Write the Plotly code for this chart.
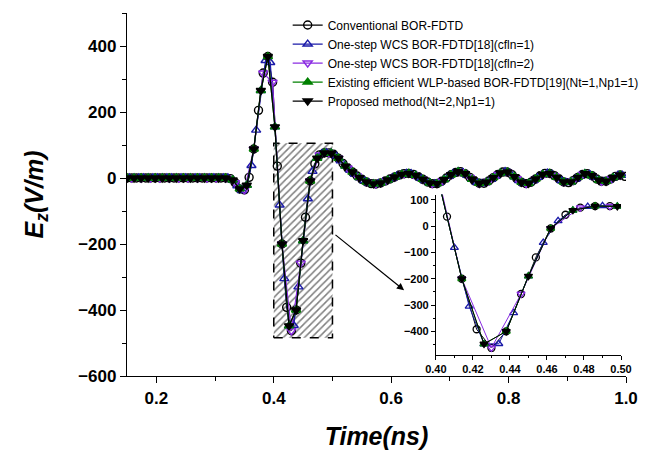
import numpy as np
import plotly.graph_objects as go

# ---------------- data ----------------
t_start = 0.15
t_step = 0.004
ez_values = [
    0, 0, 0, 0, 0, 0, 0, 0, 0, 0,
    0, 0, 0, 0, 0, 0, 0, 0, 0, 0,
    0, 0, 0, 0, 0, 0, 0, 0, 0, 0,
    0, 0, 0, 0, 0, 0, 0, 0, 0, 0,
    0, 0, 0, 0,
    -2, -6, -14, -24, -33, -38, -36, -22, 2, 38,
    88, 145, 205, 265, 318, 356, 368, 350, 290, 155,
    36, -82, -200, -305, -392, -448, -463, -447, -400, -330,
    -258, -190, -119, -63, -9, 20, 43, 60, 70, 74,
    76, 77, 76, 75, 72, 67, 60, 52, 44, 36,
    30, 24, 18, 12, 6, 1, -4, -8, -12, -15,
    -17, -18, -18, -17, -15, -12, -9, -6, -3, 0,
    3, 6, 9, 11, 13, 14, 14, 13, 11, 8,
    4, 0, -4, -8, -12, -15, -17, -18, -17, -14,
    -10, -5, 0, 5, 10, 14, 17, 19, 19, 17,
    13, 8, 2, -4, -9, -13, -16, -17, -16, -13,
    -9, -4, 1, 6, 11, 15, 18, 19, 18, 15,
    10, 4, -2, -8, -13, -16, -17, -16, -13, -8,
    -3, 2, 7, 11, 14, 15, 14, 11, 7, 2,
    -3, -8, -12, -14, -14, -12, -8, -3, 2, 7,
    11, 13, 13, 11, 7, 2, -3, -7, -10, -11,
    -10, -7, -3, 1, 5, 8, 9, 8, 5,
]
series_names = [
    "Conventional BOR-FDTD",
    "One-step WCS BOR-FDTD[18](cfln=1)",
    "One-step WCS BOR-FDTD[18](cfln=2)",
    "Existing efficient WLP-based BOR-FDTD[19](Nt=1,Np1=1)",
    "Proposed method(Nt=2,Np1=1)",
]
# sampling of each series on the time table: (first index, stride)
series_sampling = [(0, 2), (1, 2), (2, 4), (0, 3), (0, 3)]

x_ticks_main = [0.2, 0.4, 0.6, 0.8, 1.0]
y_ticks_main = [-600, -400, -200, 0, 200, 400]
x_ticks_inset = [0.40, 0.42, 0.44, 0.46, 0.48, 0.50]
y_ticks_inset = [-400, -300, -200, -100, 0, 100]

zoom_box_x = [0.40, 0.50]
zoom_box_y = [-484, 105]
arrow_tail = (0.50, -165)
arrow_head = (0.622, -340)

# ---------------- styles ----------------
colors = ["#000000", "#1a1aa8", "#8a2be2", "#008000", "#000000"]
symbols = ["circle-open", "triangle-up-open", "triangle-down-open",
           "triangle-up", "triangle-down"]
FONT = "Liberation Sans, Arial, sans-serif"

ez = np.array(ez_values, dtype=float)
t = t_start + t_step * np.arange(len(ez))

fig = go.Figure()

# hatched zoom box
bx = [zoom_box_x[0], zoom_box_x[1], zoom_box_x[1], zoom_box_x[0], zoom_box_x[0]]
by = [zoom_box_y[0], zoom_box_y[0], zoom_box_y[1], zoom_box_y[1], zoom_box_y[0]]
fig.add_trace(go.Scatter(
    x=bx, y=by, mode="lines", fill="toself",
    fillcolor="white",
    fillpattern=dict(shape="/", fgcolor="#000000", bgcolor="white",
                     size=5, solidity=0.3),
    line=dict(color="black", width=1.5, dash="dash"),
    showlegend=False, hoverinfo="skip", xaxis="x", yaxis="y"))

for name, (i0, st), c, s in zip(series_names, series_sampling, colors, symbols):
    xs = t[i0::st]
    ys = ez[i0::st]
    fig.add_trace(go.Scatter(
        x=xs, y=ys, mode="lines+markers", name=name,
        line=dict(color=c, width=1.2),
        marker=dict(symbol=s, size=8, color=c, line=dict(color=c, width=1.4)),
        xaxis="x", yaxis="y"))

for name, (i0, st), c, s in zip(series_names, series_sampling, colors, symbols):
    xs = t[i0::st]
    ys = ez[i0::st]
    fig.add_trace(go.Scatter(
        x=xs, y=ys, mode="lines+markers", name=name, showlegend=False,
        line=dict(color=c, width=1.0),
        marker=dict(symbol=s, size=7, color=c, line=dict(color=c, width=1.3)),
        xaxis="x2", yaxis="y2"))

fig.add_annotation(
    x=arrow_head[0], y=arrow_head[1], ax=arrow_tail[0], ay=arrow_tail[1],
    xref="x", yref="y", axref="x", ayref="y",
    showarrow=True, arrowhead=2, arrowsize=1.2, arrowwidth=1.2,
    arrowcolor="black", text=" ")

tickfont_main = dict(family=FONT, size=17, color="black", weight="bold")
tickfont_inset = dict(family=FONT, size=11, color="black", weight="bold")

fig.update_layout(
    width=658, height=459,
    margin=dict(l=127, r=32, t=12, b=83),
    paper_bgcolor="white", plot_bgcolor="white",
    font=dict(family=FONT, color="black"),
    showlegend=True,
    legend=dict(x=0.322, y=1.004, xanchor="left", yanchor="top",
                bgcolor="rgba(0,0,0,0)", borderwidth=0,
                font=dict(family=FONT, size=12, color="black"),
                tracegroupgap=0, itemwidth=30),
    xaxis=dict(
        domain=[0, 1], range=[0.15, 1.0], anchor="y",
        tickmode="array", tickvals=x_ticks_main,
        ticktext=[f"{v:.1f}" for v in x_ticks_main],
        ticks="outside", ticklen=6, tickwidth=1.3, tickcolor="black",
        minor=dict(dtick=0.1, tick0=0.1, ticks="outside", ticklen=4,
                   tickwidth=1.3, tickcolor="black"),
        showline=True, linecolor="black", linewidth=1.3, mirror=False,
        showgrid=False, zeroline=False, tickfont=tickfont_main,
        title=dict(text="<b><i>Time(ns)</i></b>", standoff=20,
                   font=dict(family=FONT, size=25, color="black")),
    ),
    yaxis=dict(
        domain=[0, 1], range=[-600, 500], anchor="x",
        tickmode="array", tickvals=y_ticks_main,
        ticks="outside", ticklen=6, tickwidth=1.3, tickcolor="black",
        minor=dict(dtick=100, tick0=0, ticks="outside", ticklen=4,
                   tickwidth=1.3, tickcolor="black"),
        showline=True, linecolor="black", linewidth=1.3, mirror=False,
        showgrid=False, zeroline=False, tickfont=tickfont_main,
        title=dict(text="<b><i>E<sub>z</sub>(V/m)</i></b>", standoff=27,
                   font=dict(family=FONT, size=25, color="black")),
    ),
    xaxis2=dict(
        domain=[0.619, 0.990], range=[0.40, 0.50], anchor="y2",
        tickmode="array", tickvals=x_ticks_inset,
        ticktext=[f"{v:.2f}" for v in x_ticks_inset],
        ticks="outside", ticklen=4, tickwidth=1, tickcolor="black",
        minor=dict(dtick=0.01, tick0=0.4, ticks="outside", ticklen=2,
                   tickwidth=1, tickcolor="black"),
        showline=True, linecolor="black", linewidth=1, mirror=False,
        showgrid=False, zeroline=False, tickfont=tickfont_inset,
    ),
    yaxis2=dict(
        domain=[0.0577, 0.5], range=[-490, 120], anchor="x2",
        tickmode="array", tickvals=y_ticks_inset,
        ticks="outside", ticklen=4, tickwidth=1, tickcolor="black",
        minor=dict(dtick=50, tick0=0, ticks="outside", ticklen=2,
                   tickwidth=1, tickcolor="black"),
        showline=True, linecolor="black", linewidth=1, mirror=False,
        showgrid=False, zeroline=False, tickfont=tickfont_inset,
    ),
)

fig.write_html("out.html")
